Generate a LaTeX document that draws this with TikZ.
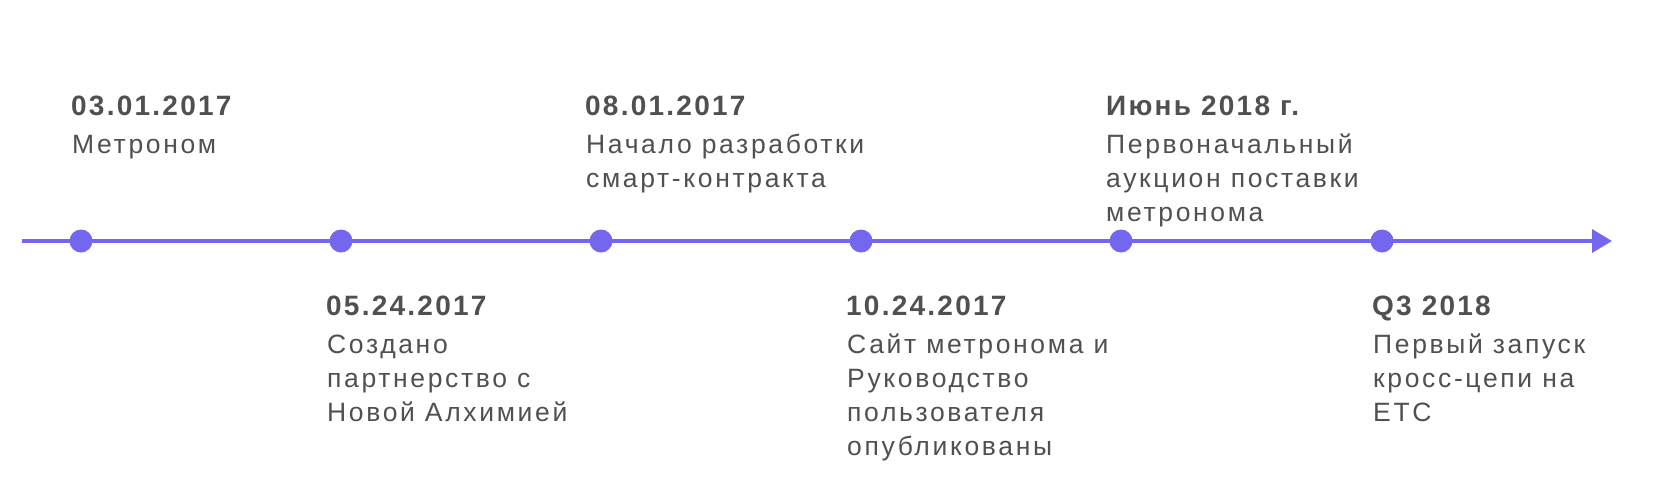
\documentclass[tikz,border=0pt]{standalone}
\usepackage{fontspec}
\setmainfont{Liberation Sans}
\newfontfamily\datefont{Liberation Sans}[LetterSpace=8]
\newfontfamily\descfont{Liberation Sans}[LetterSpace=10]
\usetikzlibrary{arrows.meta}
\definecolor{tl}{HTML}{7466EE}
\definecolor{tx}{HTML}{505050}
\tikzset{
  dot/.style={circle,fill=tl,inner sep=0pt,minimum size=23pt},
  datelbl/.style={anchor=base west,inner sep=0pt,text=tx,font=\datefont\fontsize{28}{34}\selectfont\bfseries},
  desclbl/.style={anchor=base west,inner sep=0pt,text=tx,align=left,font=\descfont\fontsize{26.5}{34.2}\selectfont},
  axis/.style={draw=tl,line width=3.5pt,-{Triangle[length=20pt,width=23pt]}}
}
\begin{document}
\begin{tikzpicture}[x=1pt,y=-1pt]
\useasboundingbox (0,0) rectangle (1662,499);
\coordinate (start) at (22,241);
\coordinate (end) at (1612,241);
\draw[axis] (start) -- (end);
\node[dot] (d1) at (81,241) {};
\node[dot] (d2) at (341,241) {};
\node[dot] (d3) at (601,241) {};
\node[dot] (d4) at (861,241) {};
\node[dot] (d5) at (1121,241) {};
\node[dot] (d6) at (1382,241) {};
% top (anchor = baseline of last line)
\node[datelbl] (t1) at (71,115) {03.01.2017};
\node[desclbl] (e1) at (72,153) {Метроном};
\node[datelbl] (t3) at (585,115) {08.01.2017};
\node[desclbl] (e3) at (586,187.2) {Начало разработки\\смарт-контракта};
\node[datelbl] (t5) at (1106,115) {Июнь 2018 г.};
\node[desclbl] (e5) at (1106,221.4) {Первоначальный\\аукцион поставки\\метронома};
% bottom
\node[datelbl] (t2) at (326,315) {05.24.2017};
\node[desclbl] (e2) at (327,421.4) {Создано\\партнерство с\\Новой Алхимией};
\node[datelbl] (t4) at (846,315) {10.24.2017};
\node[desclbl] (e4) at (847,455.6) {Сайт метронома и\\Руководство\\пользователя\\опубликованы};
\node[datelbl] (t6) at (1372,315) {Q3 2018};
\node[desclbl] (e6) at (1373,421.4) {Первый запуск\\кросс-цепи на\\ETC};
\end{tikzpicture}
\end{document}
